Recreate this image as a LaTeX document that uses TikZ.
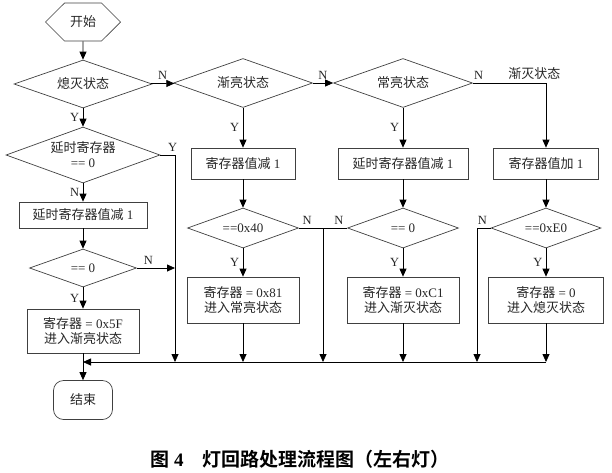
\documentclass[tikz,border=0pt]{standalone}
\usepackage{fontspec}
\setmainfont{Liberation Serif}
\newfontfamily\cjk[BoldFont={Noto Sans CJK SC Bold}]{Noto Sans CJK SC}
\usetikzlibrary{shapes.geometric,shapes.misc,arrows.meta}
\newcommand{\hz}[1]{{\cjk #1}}

\begin{document}
\begin{tikzpicture}[x=1pt,y=-1pt,
    font=\fontsize{13}{15}\selectfont,
    decision/.style={diamond,draw=black!75,line width=0.7pt,inner sep=0pt,aspect=2.8,align=center,text=black!85},
    procbox/.style={rectangle,draw=black!75,line width=0.7pt,align=center,inner sep=2pt,text=black!85},
    hexa/.style={chamfered rectangle,chamfered rectangle xsep=16pt,chamfered rectangle ysep=12.9pt,draw=black!75,line width=0.7pt,minimum width=75pt,minimum height=26pt,inner sep=0pt,text=black!85},
    ending/.style={rectangle,rounded corners=10pt,draw=black!75,line width=0.7pt,minimum width=59pt,minimum height=39pt,text=black!85},
    yn/.style={font=\fontsize{12.5}{14}\selectfont,text=black!85},
    flow/.style={line width=0.8pt,-{Triangle[length=8pt,width=7pt]}}]
  \useasboundingbox (0,0) rectangle (612,472);
  \draw
    (83,22) node[hexa] (start) {\hz{开始}}
    (83,84) node[decision,minimum width=138pt,minimum height=48pt] (off) {\hz{熄灭状态}}
    (243,83) node[decision,minimum width=139pt,minimum height=49pt] (up) {\hz{渐亮状态}}
    (403,83) node[decision,minimum width=139pt,minimum height=49pt] (on) {\hz{常亮状态}}
    (83,155) node[decision,minimum width=154pt,minimum height=56pt] (dly) {\hz{延时寄存器}\\== 0}
    (83,215) node[procbox,minimum width=128pt,minimum height=26pt] (dec1) {\hz{延时寄存器值减} 1}
    (83,268) node[decision,minimum width=107pt,minimum height=38pt] (zero1) {== 0}
    (83,331) node[procbox,minimum width=112pt,minimum height=44pt] (set1) {\hz{寄存器} = 0x5F\\\hz{进入渐亮状态}}
    (83,400) node[ending] (end) {\hz{结束}}
    (243,163.5) node[procbox,minimum width=104pt,minimum height=31pt] (dec2) {\hz{寄存器值减} 1}
    (243,228) node[decision,minimum width=111pt,minimum height=40pt] (cmp2) {==0x40}
    (243,300) node[procbox,minimum width=112pt,minimum height=46pt] (set2) {\hz{寄存器} = 0x81\\\hz{进入常亮状态}}
    (403,163.5) node[procbox,minimum width=130pt,minimum height=31pt] (dec3) {\hz{延时寄存器值减} 1}
    (403,228) node[decision,minimum width=111pt,minimum height=40pt] (cmp3) {== 0}
    (403,300) node[procbox,minimum width=112pt,minimum height=46pt] (set3) {\hz{寄存器} = 0xC1\\\hz{进入渐灭状态}}
    (546,163.5) node[procbox,minimum width=105pt,minimum height=31pt] (inc4) {\hz{寄存器值加} 1}
    (546,228) node[decision,minimum width=110pt,minimum height=40pt] (cmp4) {==0xE0}
    (546,300) node[procbox,minimum width=115pt,minimum height=46pt] (set4) {\hz{寄存器} = 0\\\hz{进入熄灭状态}}
    (300,459) node (title) {\bfseries\fontsize{19}{21}\selectfont\hz{图} 4\quad\hz{灯回路处理流程图（左右灯）}};
  \coordinate (jY) at (175,362);
  \coordinate (jN) at (323,228);
  \coordinate (jE) at (477,362);
  \coordinate (mergeL) at (83,362);
  \begin{scope}[flow]
    \draw (start) to (off);
    \draw (off) to node[yn,above]{N} (up);
    \draw (up) to node[yn,above]{N} (on);
    \draw (on.east) -| node[yn,pos=0.04,above]{N} node[pos=0.42,above,text=black!85]{\hz{渐灭状态}} (inc4);
    \draw (off) to node[yn,left]{Y} (dly);
    \draw (dly.east) -| node[yn,pos=0.42,above]{Y} (jY);
    \draw (dly) to node[yn,left]{N} (dec1);
    \draw (dec1) to (zero1);
    \draw (zero1.east) to node[yn,pos=0.3,above]{N} (zero1.east -| jY);
    \draw (zero1) to node[yn,left]{Y} (set1);
    \draw (set1) to (end);
    \draw (up) to node[yn,left]{Y} (dec2);
    \draw (dec2) to (cmp2);
    \draw (cmp2) to node[yn,left]{Y} (set2);
    \draw (set2) to (set2 |- jY);
    \draw[-] (cmp2.east) to node[yn,at start,above right]{N} (jN);
    \draw[-] (cmp3.west) to node[yn,at start,above left]{N} (jN);
    \draw (jN) to (jN |- jY);
    \draw (on) to node[yn,left]{Y} (dec3);
    \draw (dec3) to (cmp3);
    \draw (cmp3) to node[yn,left]{Y} (set3);
    \draw (set3) to (set3 |- jY);
    \draw (inc4) to (cmp4);
    \draw (cmp4) to node[yn,left]{Y} (set4);
    \draw (set4) to (set4 |- jY);
    \draw (cmp4.west) -| node[yn,at start,above left]{N} (jE);
    \draw (set4 |- jY) to (mergeL);
  \end{scope}
\end{tikzpicture}
\end{document}
